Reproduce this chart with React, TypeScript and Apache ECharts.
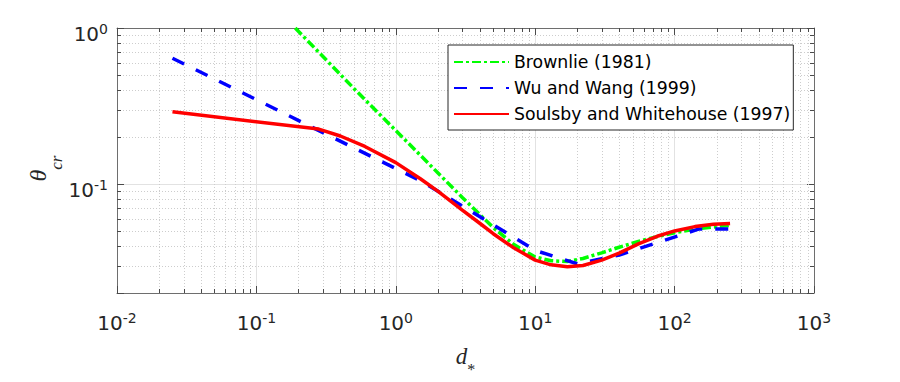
import React, { useEffect, useRef } from 'react';
import * as echarts from 'echarts';

// ---- data ----
const LEGEND_NAMES = ['Brownlie (1981)', 'Wu and Wang (1999)', 'Soulsby and Whitehouse (1997)'];

const BROWNLIE_X = [0.19, 0.5, 1, 2, 3, 5, 7, 10, 13, 17, 22, 30, 40, 55, 75, 100, 140, 190, 250];
const BROWNLIE_Y = [1.0, 0.41, 0.22, 0.118, 0.082, 0.0525, 0.041, 0.034, 0.0322, 0.0318, 0.0333, 0.0362, 0.0393, 0.0428, 0.046, 0.0487, 0.0513, 0.053, 0.0543];

const WUWANG_X = [0.025, 1.5, 10, 20, 40, 150, 250];
const WUWANG_Y = [0.64, 0.105, 0.0375, 0.0308, 0.035, 0.0515, 0.0515];

const SOULSBY_X = [0.025, 0.28, 0.4, 0.6, 1, 1.5, 2, 3, 4, 5, 7, 10, 13, 17, 22, 30, 40, 55, 75, 100, 140, 190, 250];
const SOULSBY_Y = [0.29, 0.225, 0.203, 0.174, 0.137, 0.108, 0.09, 0.068, 0.056, 0.048, 0.039, 0.0325, 0.0303, 0.0295, 0.03, 0.0325, 0.036, 0.0413, 0.0462, 0.05, 0.0533, 0.0551, 0.0558];

// axis ranges and minor tick positions
const X_MIN = 0.01;
const X_MAX = 1000;
const Y_MIN = 0.02;
const Y_MAX = 1;
const MINOR_MULT = [2, 3, 4, 5, 6, 7, 8, 9];
const X_DECADES = [0.01, 0.1, 1, 10, 100];
const Y_DECADES = [0.01, 0.1];

const COLORS = ['#00ff00', '#0000ff', '#ff0000'];

const AXIS_COLOR = '#6e6e6e';
const TICK_COLOR = '#4a4a4a';
const TEXT_COLOR = '#262626';
const SANS = 'DejaVu Sans';
const SERIF = 'Liberation Serif';

const pairs = (xs: number[], ys: number[]) => xs.map((x, i) => [x, ys[i]]);

const labelFormatter = (v: number) => {
  const l = Math.log10(v);
  const e = Math.round(l);
  if (Math.abs(l - e) > 1e-6) return '';
  return `{b|10}{s|${e}}`;
};

const labelRich = {
  b: { fontFamily: SANS, fontSize: 20, color: TEXT_COLOR, padding: [2, 0, 0, 0], lineHeight: 22 },
  s: { fontFamily: SANS, fontSize: 14, color: TEXT_COLOR, verticalAlign: 'top', lineHeight: 14 },
};

export default function App() {
  const ref = useRef<HTMLDivElement>(null);

  useEffect(() => {
    if (!ref.current) return;
    const chart = echarts.init(ref.current, undefined, { renderer: 'svg' });

    const xMinor: number[] = [];
    X_DECADES.forEach((d) => MINOR_MULT.forEach((m) => xMinor.push(d * m)));
    const yMinor: number[] = [];
    Y_DECADES.forEach((d) => MINOR_MULT.forEach((m) => {
      const v = d * m;
      if (v > Y_MIN * 1.0001 && v < Y_MAX) yMinor.push(v);
    }));

    const crisp = (v: number) => Math.round(v) + 0.5;

    const option: any = {
      animation: false,
      backgroundColor: '#ffffff',
      grid: { left: 117, right: 86, top: 28, bottom: 85, containLabel: false },
      legend: {
        data: LEGEND_NAMES,
        orient: 'vertical',
        left: 448,
        top: 45,
        itemWidth: 55,
        itemHeight: 12,
        itemGap: 6,
        padding: [7, 3, 6, 5],
        borderColor: '#262626',
        borderWidth: 1,
        borderRadius: 0,
        backgroundColor: '#ffffff',
        itemStyle: { opacity: 0, color: 'transparent', borderWidth: 0 },
        textStyle: { fontFamily: SANS, fontSize: 17.3, color: '#000000', lineHeight: 20 },
        z: 10,
      },
      xAxis: [
        {
          type: 'log',
          logBase: 10,
          min: X_MIN,
          max: X_MAX,
          position: 'bottom',
          name: '{d|d}{s|*}',
          nameLocation: 'middle',
          nameGap: 43,
          nameMoveOverlap: false,
          nameTextStyle: {
            rich: {
              d: { fontFamily: SERIF, fontStyle: 'italic', fontSize: 23, color: TEXT_COLOR },
              s: { fontFamily: SERIF, fontSize: 16, color: TEXT_COLOR, padding: [25, 0, 0, 0] },
            },
          },
          axisLine: { show: true, onZero: false, lineStyle: { color: AXIS_COLOR, width: 1 } },
          axisTick: { show: true, inside: true, length: 7, lineStyle: { color: TICK_COLOR } },
          axisLabel: { show: true, margin: 18, formatter: labelFormatter, rich: labelRich },
          splitLine: { show: true, lineStyle: { color: '#e2e2e2', width: 1 } },
        },
        {
          type: 'log',
          logBase: 10,
          min: X_MIN,
          max: X_MAX,
          position: 'top',
          axisLine: { show: true, onZero: false, lineStyle: { color: AXIS_COLOR, width: 1 } },
          axisTick: { show: true, inside: true, length: 7, lineStyle: { color: TICK_COLOR } },
          axisLabel: { show: false },
          splitLine: { show: false },
        },
      ],
      yAxis: [
        {
          type: 'log',
          logBase: 10,
          min: Y_MIN,
          max: Y_MAX,
          position: 'left',
          name: '{t|θ}{s|cr}',
          nameLocation: 'middle',
          nameRotate: 90,
          nameGap: 52,
          nameMoveOverlap: false,
          nameTextStyle: {
            padding: [0, 16, 0, 0],
            rich: {
              t: { fontFamily: SERIF, fontStyle: 'italic', fontSize: 24, color: TEXT_COLOR },
              s: { fontFamily: SERIF, fontStyle: 'italic', fontSize: 17, color: TEXT_COLOR, padding: [37, 0, 0, 0] },
            },
          },
          axisLine: { show: true, onZero: false, lineStyle: { color: AXIS_COLOR, width: 1 } },
          axisTick: { show: true, inside: true, length: 7, lineStyle: { color: TICK_COLOR } },
          axisLabel: { show: true, margin: 9, padding: [10, 0, 0, 0], formatter: labelFormatter, rich: labelRich },
          splitLine: { show: true, lineStyle: { color: '#e2e2e2', width: 1 } },
        },
        {
          type: 'log',
          logBase: 10,
          min: Y_MIN,
          max: Y_MAX,
          position: 'right',
          axisLine: { show: true, onZero: false, lineStyle: { color: AXIS_COLOR, width: 1 } },
          axisTick: { show: true, inside: true, length: 7, lineStyle: { color: TICK_COLOR } },
          axisLabel: { show: false },
          splitLine: { show: false },
        },
      ],
      series: [
        {
          type: 'custom',
          name: 'minor-grid',
          xAxisIndex: 0,
          yAxisIndex: 0,
          silent: true,
          z: 1,
          data: [[1, 0.1]],
          renderItem: (params: any, api: any) => {
            const cs = params.coordSys;
            const left = cs.x;
            const top = cs.y;
            const right = cs.x + cs.width;
            const bottom = cs.y + cs.height;
            const children: any[] = [];
            const gridStyle = { stroke: '#cdcdcd', lineWidth: 1, lineDash: [1, 2] };
            const tickStyle = { stroke: TICK_COLOR, lineWidth: 1 };
            xMinor.forEach((v) => {
              const px = crisp(api.coord([v, 0.1])[0]);
              children.push({ type: 'line', shape: { x1: px, y1: top, x2: px, y2: bottom }, style: gridStyle });
              children.push({ type: 'line', shape: { x1: px, y1: bottom, x2: px, y2: bottom - 4 }, style: tickStyle });
              children.push({ type: 'line', shape: { x1: px, y1: top, x2: px, y2: top + 4 }, style: tickStyle });
            });
            yMinor.forEach((v) => {
              const py = crisp(api.coord([1, v])[1]);
              children.push({ type: 'line', shape: { x1: left, y1: py, x2: right, y2: py }, style: gridStyle });
              children.push({ type: 'line', shape: { x1: left, y1: py, x2: left + 4, y2: py }, style: tickStyle });
              children.push({ type: 'line', shape: { x1: right, y1: py, x2: right - 4, y2: py }, style: tickStyle });
            });
            return { type: 'group', children };
          },
        },
        {
          type: 'line',
          name: LEGEND_NAMES[0],
          data: pairs(BROWNLIE_X, BROWNLIE_Y),
          symbol: 'none',
          showSymbol: false,
          smooth: false,
          z: 3,
          color: COLORS[0],
          lineStyle: { color: COLORS[0], width: 3.5, type: [9, 3, 3, 3] },
        },
        {
          type: 'line',
          name: LEGEND_NAMES[1],
          data: pairs(WUWANG_X, WUWANG_Y),
          symbol: 'none',
          showSymbol: false,
          z: 3,
          color: COLORS[1],
          lineStyle: { color: COLORS[1], width: 3.5, type: [13, 13] },
        },
        {
          type: 'line',
          name: LEGEND_NAMES[2],
          data: pairs(SOULSBY_X, SOULSBY_Y),
          symbol: 'none',
          showSymbol: false,
          z: 3,
          color: COLORS[2],
          lineStyle: { color: COLORS[2], width: 3.5, type: 'solid' },
        },
      ],
    };

    chart.setOption(option);
    return () => {
      chart.dispose();
    };
  }, []);

  return (
    <div
      ref={ref}
      style={{ position: 'fixed', left: 0, top: 0, width: 900, height: 382, background: '#fff' }}
    />
  );
}
